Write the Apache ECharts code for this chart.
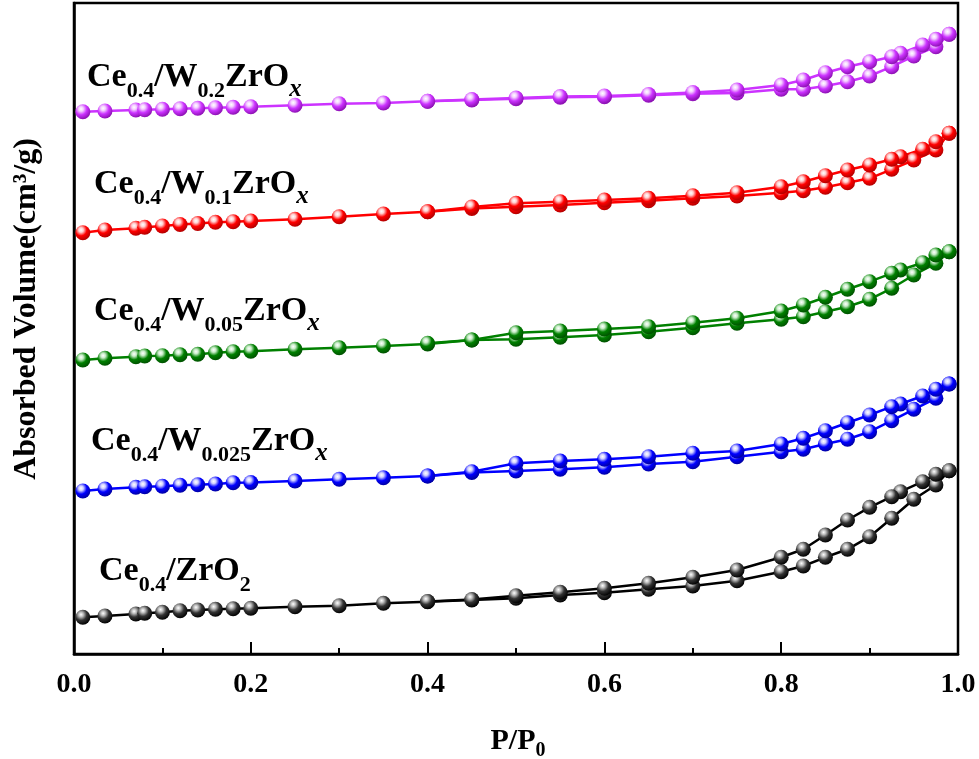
<!DOCTYPE html>
<html>
<head>
<meta charset="utf-8">
<script src="https://cdn.jsdelivr.net/npm/echarts@6/dist/echarts.min.js"></script>
<style>html,body{margin:0;padding:0;background:#fff;}#c{width:979px;height:759px;}</style>
</head>
<body>
<div id="c"></div>
<script>
// Relative pressure points
const xAds = [0.01,0.035,0.07,0.08,0.1,0.12,0.14,0.16,0.18,0.2,0.25,0.3,0.35,0.4,0.45,0.5,0.55,0.6,0.65,0.7,0.75,0.8,0.825,0.85,0.875,0.9,0.925,0.95,0.975,0.99];
const xDes = [0.99,0.975,0.96,0.935,0.925,0.9,0.875,0.85,0.825,0.8,0.75,0.7,0.65,0.6,0.55,0.5,0.45,0.4];
const xTicks = ['0.0','0.2','0.4','0.6','0.8','1.0'];

// Absorbed volume (arbitrary offset units) - adsorption / desorption branches
const w02Ads = [542.3,543,544,544.3,544.7,545.3,545.7,546.3,546.7,547.3,548.7,550.3,551,552.7,554,555.3,556.7,557.3,558.7,560.3,561,564.7,564.7,568,572.3,578,587.3,598,607.3,619.7];
const w02Des = [619.7,614.7,609,600.7,597.3,592.3,587.3,581.3,574,569,564,561.5,559.5,558,557.5,556,554.5,552.7];
const w01Ads = [421.3,424,425.7,426.7,428,429.5,430.5,431.7,432.3,433,434.7,437.3,440,442.3,445.5,447.3,449,451.3,453.3,455.7,458,461.3,463.3,466.7,471.3,475.7,484.7,494,504,520.7];
const w01Des = [520.7,512.3,504.7,497.3,494.7,489,484,478.3,472.3,467.3,461.3,458.3,455.7,454,452.3,450.7,447,442.3];
const w005Ads = [294,295.7,297.3,298,298.3,299.3,299.7,301.3,302.3,302.7,304.7,306.3,308,310,314,314.7,316.7,319,322.3,326.3,330.7,334.7,337.3,342.3,347.3,354.7,365.7,379,390.7,402.3];
const w005Des = [402.3,399,391.3,384,380.7,372.3,364.7,356.7,349,343,335.7,331.3,327.3,325,323,321.3,314,310.7];
const w0025Ads = [163,165,166.7,167.3,167.7,168.7,169.3,170,171.3,171.5,173,174.7,176.3,178,181.5,183,184.7,186.7,190,192.3,197.3,202.3,204.7,210,214.7,222.3,233.3,244.7,255.7,270];
const w0025Des = [270,264.7,258,250,247.3,239,231.3,223.3,215.7,210,203,200.7,197.3,194.7,193,190.7,182.3,178];
const zrAds = [36.7,38,40,40.7,41.7,43.3,44,44.7,45.3,45.7,47.3,48.3,50.7,52.3,54,55.7,59,61.3,64.7,68,73.3,82.3,88,96.7,104.7,117.3,135.7,154.7,169,183.3];
const zrDes = [183.3,179.7,172.3,162.3,157.3,146.7,134,119,104.7,96.7,84,76.7,70.7,65.7,61.7,58.3,54.5,52.5];

const samples = [
  {name:'Ce0.4/W0.2ZrOx', ads:w02Ads, des:w02Des, color:'#CC33FF', light:'#f4d0ff', dark:'#8a10b0'},
  {name:'Ce0.4/W0.1ZrOx', ads:w01Ads, des:w01Des, color:'#FF0000', light:'#ffd0d0', dark:'#b00000'},
  {name:'Ce0.4/W0.05ZrOx', ads:w005Ads, des:w005Des, color:'#008000', light:'#c8ecc8', dark:'#005000'},
  {name:'Ce0.4/W0.025ZrOx', ads:w0025Ads, des:w0025Des, color:'#0000FF', light:'#d0d0ff', dark:'#0000a0'},
  {name:'Ce0.4/ZrO2', ads:zrAds, des:zrDes, color:'#000000', light:'#e0e0e0', dark:'#000000'}
];

const FONT = "'Times New Roman','Liberation Serif',serif";

function sphere(s){
  if (s.color === '#000000') {
    return {type:'radial', x:0.38, y:0.32, r:0.7, colorStops:[
      {offset:0,color:'#ffffff'},{offset:0.22,color:'#bdbdbd'},{offset:0.55,color:'#333'},{offset:1,color:'#000'}]};
  }
  return {type:'radial', x:0.38, y:0.32, r:0.7, colorStops:[
    {offset:0,color:'#ffffff'},{offset:0.22,color:s.light},{offset:0.55,color:s.color},{offset:1,color:s.dark}]};
}

const series = [];
samples.forEach(s => {
  [[xAds, s.ads],[xDes, s.des]].forEach(([xs, ys]) => {
    series.push({
      type:'line', name:s.name,
      data: xs.map((x,i)=>[x, ys[i]]),
      symbol:'circle', symbolSize:15,
      lineStyle:{color:s.color, width:2.5},
      itemStyle:{color:sphere(s), borderWidth:0},
      emphasis:{disabled:true},
      animation:false
    });
  });
});

const rich = {
  m:{fontFamily:FONT, fontWeight:'bold', fontSize:34, lineHeight:50, verticalAlign:'middle', fill:'#000'},
  s:{fontFamily:FONT, fontWeight:'bold', fontSize:22, lineHeight:22, verticalAlign:'bottom', fill:'#000'},
  i:{fontFamily:FONT, fontWeight:'bold', fontStyle:'italic', fontSize:25, lineHeight:25, verticalAlign:'bottom', fill:'#000'}
};
const labels = [
  {t:'{m|Ce}{s|0.4}{m|/W}{s|0.2}{m|ZrO}{i|x}', x:87, y:77},
  {t:'{m|Ce}{s|0.4}{m|/W}{s|0.1}{m|ZrO}{i|x}', x:94, y:184},
  {t:'{m|Ce}{s|0.4}{m|/W}{s|0.05}{m|ZrO}{i|x}', x:94, y:311},
  {t:'{m|Ce}{s|0.4}{m|/W}{s|0.025}{m|ZrO}{i|x}', x:91, y:441},
  {t:'{m|Ce}{s|0.4}{m|/ZrO}{s|2}', x:99, y:571}
];

const graphic = labels.map(l => ({
  type:'text', x:l.x, y:l.y, z:100,
  style:{text:l.t, rich:rich, align:'left', verticalAlign:'middle'}
}));
graphic.push({
  type:'text', x:27, y:309, rotation:Math.PI/2, z:100,
  style:{text:'Absorbed Volume(cm³/g)', fontFamily:FONT, fontWeight:'bold', fontSize:32, fill:'#000', align:'center', verticalAlign:'middle'}
});
graphic.push({
  type:'text', x:518, y:741, z:100,
  style:{text:'{p|P/P}{q|0}', align:'center', verticalAlign:'middle', rich:{
    p:{fontFamily:FONT, fontWeight:'bold', fontSize:30, lineHeight:40, verticalAlign:'middle', fill:'#000'},
    q:{fontFamily:FONT, fontWeight:'bold', fontSize:20, lineHeight:20, verticalAlign:'bottom', fill:'#000'}
  }}
});

const chart = echarts.init(document.getElementById('c'), null, {renderer:'canvas'});
chart.setOption({
  backgroundColor:'#fff',
  animation:false,
  grid:{left:74, right:21, top:3, bottom:105, show:true, borderColor:'#000', borderWidth:2.5, containLabel:false},
  xAxis:{type:'value', min:0, max:1, interval:0.2,
    axisLine:{show:true, lineStyle:{color:'#000', width:2.5}},
    axisTick:{show:true, inside:true, length:12, lineStyle:{color:'#000', width:2}},
    minorTick:{show:true, splitNumber:2, length:6, lineStyle:{color:'#000', width:2}},
    splitLine:{show:false},
    axisLabel:{margin:17, fontFamily:FONT, fontWeight:'bold', fontSize:28, color:'#000',
      formatter:(v)=>xTicks[Math.round(v/0.2)]}
  },
  yAxis:{type:'value', min:0, max:651,
    axisLine:{show:true, lineStyle:{color:'#000', width:2.5}},
    axisTick:{show:false}, axisLabel:{show:false}, splitLine:{show:false}
  },
  graphic:graphic,
  series:series
});
</script>
</body>
</html>
